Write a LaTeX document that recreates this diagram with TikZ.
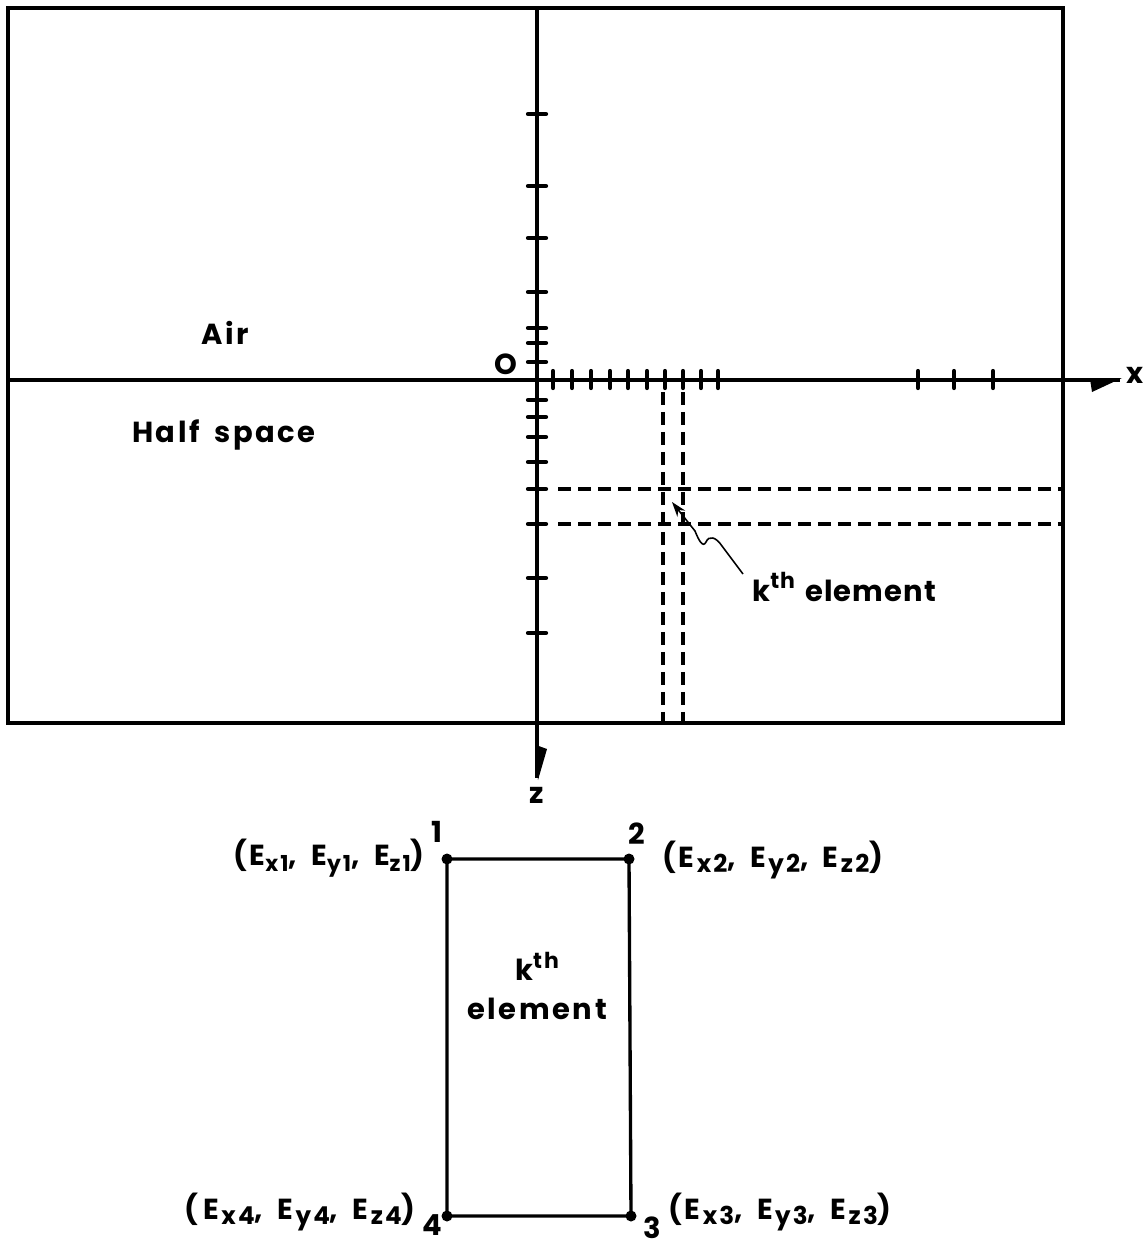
\documentclass[tikz,border=0pt]{standalone}
\usepackage{fontspec}
\setmainfont{Poppins}[LetterSpace=9]
\usetikzlibrary{arrows.meta}
\newcommand{\sbs}[1]{\raisebox{-0.35ex}{\fontsize{12.5}{13}\selectfont #1}}
\newcommand{\sbl}[1]{\hspace{0.08em}\raisebox{-0.35ex}{\fontsize{14}{15}\selectfont #1}}
\newcommand{\sps}[1]{\raisebox{0.75ex}{\fontsize{12.5}{13}\selectfont #1}}
\newcommand{\wsp}{\hspace{0.5em}}
\begin{document}
\begin{tikzpicture}[x=0.02cm,y=-0.02cm,
  heavy/.style={line width=1.9pt},
  tickmark/.style={line width=2.4pt,line cap=round},
  gridline/.style={line width=1.9pt,dash pattern=on 0.26cm off 0.14cm},
  leader/.style={line width=0.9pt,-{Stealth[length=0.3cm,width=0.2cm]}},
  lbl/.style={inner sep=0pt,font=\fontsize{16.5}{19}\selectfont\bfseries},
  corner/.style={circle,fill,inner sep=0pt,minimum size=0.22cm}]
\useasboundingbox (0,0) rectangle (1147,1247);
% frame
\draw[heavy] (8,8) rectangle (1063,723);
% axes
\coordinate (xstart) at (8,380);
\coordinate (xend) at (1120,380);
\coordinate (ztop) at (537,8);
\coordinate (zend) at (537,778);
\draw[heavy] (xstart) -- (xend);
\draw[heavy] (ztop) -- (zend);
\fill (1090,379) -- (1122,378) -- (1092,392) -- cycle;
\fill (536,745) -- (547,749) -- (538,780) -- cycle;
% ticks on x
\foreach \t in {553,572,591,610,628,647,665,683,701,718,918,954,993}
  \draw[tickmark] (\t,371) -- (\t,388);
% ticks on z
\foreach \t in {114,186,238,292,328,343,362,400,417,437,462,489,524,578,633}
  \draw[tickmark] (528,\t) -- (546,\t);
% dashed element lines
\draw[gridline] (558,489) -- (1063,489);
\draw[gridline] (558,524) -- (1063,524);
\draw[gridline] (663,392) -- (663,723);
\draw[gridline] (683,392) -- (683,723);
% labels upper
\node[lbl] (air) at (225,333) {Air};
\node[lbl] (half) at (224,435) {Half\wsp space};
\node[lbl] (orig) at (506,364) {O};
\node[lbl] (xlab) at (1135,375) {x};
\node[lbl] (zlab) at (537,795) {z};
\node[lbl,anchor=west] (klab) at (752,587) {\addfontfeature{LetterSpace=4}k\sps{th}\hspace{0.1em} element};
\coordinate (ktip) at (672,502);
\draw[leader] (743,574) -- (722,546) .. controls (716,537) and (709,535) .. (706,542) .. controls (703,548) and (699,541) .. (695,531) -- (ktip);
% element rectangle
\node[corner] (c1) at (447,859) {};
\node[corner] (c2) at (629,859) {};
\node[corner] (c3) at (631,1216) {};
\node[corner] (c4) at (447,1216) {};
\draw[heavy] (c1.center) -- (c2.center) -- (c3.center) -- (c4.center) -- cycle;
\node[lbl,align=center] (kin) at (537,986) {k\sps{th}\\[3pt]element};
\node[lbl] (n1) at (437,832) {1};
\node[lbl] (n2) at (637,834) {2};
\node[lbl] (n3) at (652,1228) {3};
\node[lbl] (n4) at (432,1225) {4};
\node[lbl,anchor=east] (l1) at (425,858) {(E\sbs{x1},\wsp E\sbs{y1},\wsp E\sbs{z1})};
\node[lbl,anchor=west] (l2) at (662,860) {(E\sbl{x2},\wsp E\sbl{y2},\wsp E\sbl{z2})};
\node[lbl,anchor=east] (l4) at (416,1212) {(\,E\sbl{x4},\wsp E\sbl{y4},\wsp E\sbl{z4})};
\node[lbl,anchor=west] (l3) at (668,1212) {(E\sbl{x3},\wsp E\sbl{y3},\wsp E\sbl{z3})};
\end{tikzpicture}
\end{document}
